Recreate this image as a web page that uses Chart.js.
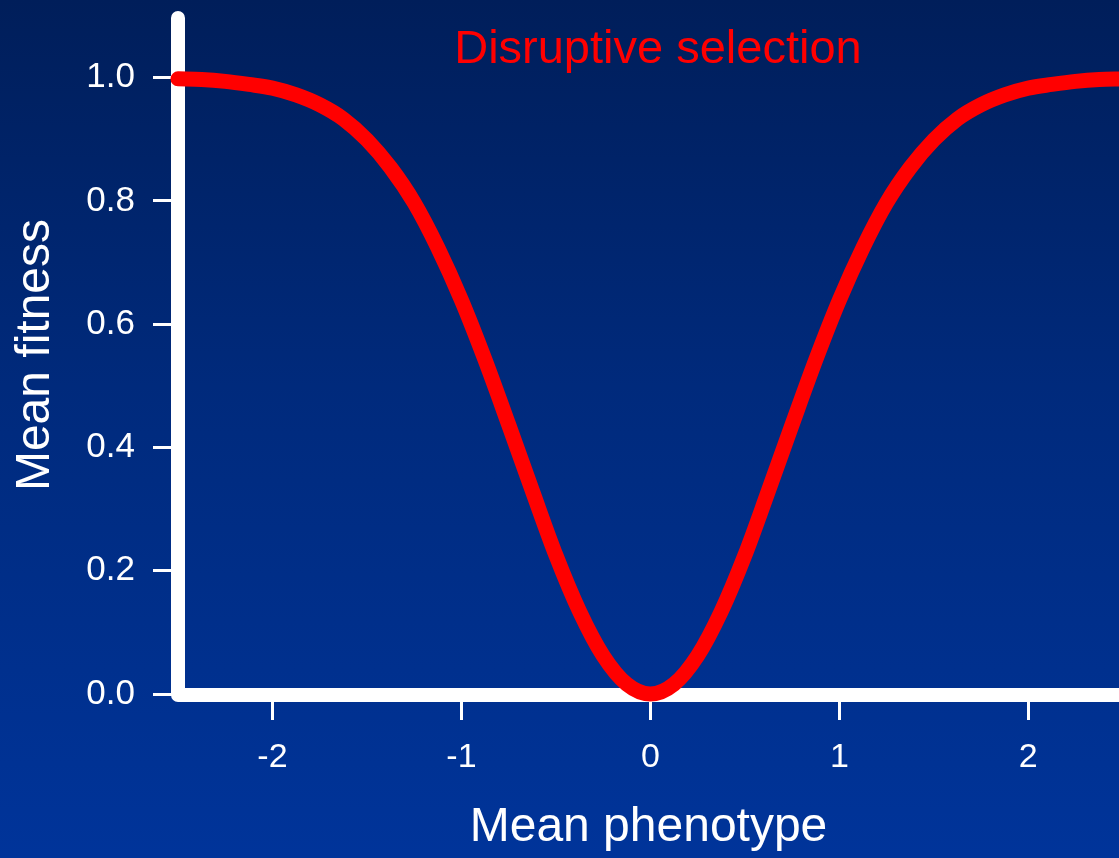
<!DOCTYPE html>
<html>
<head>
<meta charset="utf-8">
<title>Disruptive selection</title>
<script src="https://cdn.jsdelivr.net/npm/chart.js@4.4.1/dist/chart.umd.min.js"></script>
<style>
    html, body {
        margin: 0;
        padding: 0;
        background: #002a7a;
    }
    #wrap {
        width: 1119px;
        height: 858px;
        background: linear-gradient(to bottom, #001e5a 0%, #002a7c 45%, #00349a 100%);
    }
    canvas {
        display: block;
    }
</style>
</head>
<body>
<div id="wrap">
    <canvas id="fitnessChart" width="1119" height="858"></canvas>
</div>
<script>
// Mean phenotype values along the x axis
const phenotype = [
    -2.5, -2.375, -2.25, -2.125, -2, -1.875, -1.75, -1.625, -1.5, -1.375,
    -1.25, -1.125, -1, -0.875, -0.75, -0.625, -0.5, -0.375, -0.25, -0.125, 0,
    0.125, 0.25, 0.375, 0.5, 0.625, 0.75, 0.875, 1, 1.125, 1.25,
    1.375, 1.5, 1.625, 1.75, 1.875, 2, 2.125, 2.25, 2.375, 2.5
];

// Mean fitness at each phenotype value
const meanFitness = [
    0.998, 0.997, 0.994, 0.989, 0.983, 0.972, 0.956, 0.933, 0.899, 0.854,
    0.797, 0.724, 0.639, 0.542, 0.437, 0.330, 0.225, 0.134, 0.062, 0.016, 0.000,
    0.016, 0.062, 0.134, 0.225, 0.330, 0.437, 0.542, 0.639, 0.724, 0.797,
    0.854, 0.899, 0.933, 0.956, 0.972, 0.983, 0.989, 0.994, 0.997, 0.998
];

const xTicks = [-2, -1, 0, 1, 2];
const yTicks = [0, 0.2, 0.4, 0.6, 0.8, 1.0];

const chartTitle = 'Disruptive selection';
const xTitle = 'Mean phenotype';
const yTitle = 'Mean fitness';

const FONT = "'Liberation Sans', Arial, Helvetica, sans-serif";

// Thick white L-shaped axes, drawn under the curve
const axesPlugin = {
    id: 'whiteAxes',
    beforeDatasetsDraw(chart) {
        const { ctx, chartArea } = chart;
        ctx.save();
        ctx.strokeStyle = '#ffffff';
        ctx.lineWidth = 14;
        ctx.lineCap = 'round';
        ctx.lineJoin = 'round';
        ctx.beginPath();
        ctx.moveTo(chartArea.left, chartArea.top + 2);
        ctx.lineTo(chartArea.left, chartArea.bottom + 1);
        ctx.lineTo(chart.width + 10, chartArea.bottom + 1);
        ctx.stroke();
        ctx.restore();
    }
};

// Red caption inside the plot area
const captionPlugin = {
    id: 'caption',
    afterDraw(chart) {
        const { ctx } = chart;
        const x = chart.scales.x.getPixelForValue(0.04);
        ctx.save();
        ctx.fillStyle = '#ff0000';
        ctx.font = '47px ' + FONT;
        ctx.textAlign = 'center';
        ctx.textBaseline = 'alphabetic';
        ctx.fillText(chartTitle, x, 63);
        ctx.restore();
    }
};

const ctx = document.getElementById('fitnessChart');

const fitnessChart = new Chart(ctx, {
    type: 'line',
    data: {
        datasets: [{
            data: phenotype.map((p, i) => ({ x: p, y: meanFitness[i] })),
            borderColor: '#ff0000',
            borderWidth: 15,
            borderCapStyle: 'round',
            borderJoinStyle: 'round',
            cubicInterpolationMode: 'monotone',
            pointRadius: 0,
            fill: false,
            clip: false
        }]
    },
    options: {
        responsive: false,
        devicePixelRatio: 1,
        animation: false,
        layout: {
            padding: { top: 16, right: 0, left: 0, bottom: 0 }
        },
        elements: {
            line: { capBezierPoints: false }
        },
        plugins: {
            legend: { display: false },
            tooltip: { enabled: false },
            title: { display: false }
        },
        scales: {
            x: {
                type: 'linear',
                min: -2.5,
                max: 2.48,
                afterFit: function(scale) {
                    scale.height = 164;
                    scale.paddingLeft = 0;
                    scale.paddingRight = 0;
                },
                afterBuildTicks: function(scale) {
                    scale.ticks = xTicks.map(v => ({ value: v }));
                },
                border: { display: false },
                grid: {
                    drawOnChartArea: false,
                    drawTicks: true,
                    tickLength: 26,
                    tickWidth: 3,
                    tickColor: '#ffffff'
                },
                ticks: {
                    color: '#ffffff',
                    padding: 17,
                    maxRotation: 0,
                    font: { family: FONT, size: 34, lineHeight: 1.2 }
                },
                title: {
                    display: true,
                    text: xTitle,
                    color: '#ffffff',
                    padding: { top: 0, bottom: 6 },
                    font: { family: FONT, size: 48, lineHeight: 1 }
                }
            },
            y: {
                type: 'linear',
                min: 0,
                max: 1.1,
                afterFit: function(scale) {
                    scale.width = 178;
                    scale.paddingTop = 0;
                    scale.paddingBottom = 0;
                },
                afterBuildTicks: function(scale) {
                    scale.ticks = yTicks.map(v => ({ value: v }));
                },
                border: { display: false },
                grid: {
                    drawOnChartArea: false,
                    drawTicks: true,
                    tickLength: 25,
                    tickWidth: 3,
                    tickColor: '#ffffff'
                },
                ticks: {
                    color: '#ffffff',
                    padding: 18,
                    font: { family: FONT, size: 35, lineHeight: 1.2 },
                    callback: function(value) {
                        return value.toFixed(1);
                    }
                },
                title: {
                    display: true,
                    text: yTitle,
                    color: '#ffffff',
                    padding: { top: 12, bottom: 0 },
                    font: { family: FONT, size: 48, lineHeight: 1 }
                }
            }
        }
    },
    plugins: [axesPlugin, captionPlugin]
});
</script>
</body>
</html>
